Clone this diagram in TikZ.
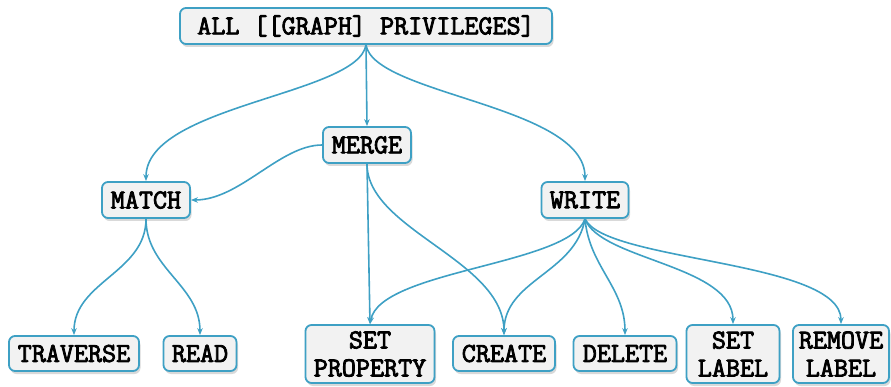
\documentclass[tikz,border=0pt]{standalone}
\usepackage{fontspec}
\newfontfamily\boxfont{Latin Modern Mono}[AutoFakeBold=3]
\usetikzlibrary{arrows.meta,shadows}
\definecolor{edgeblue}{RGB}{62,160,196}
\definecolor{boxfill}{RGB}{242,242,242}
\begin{document}
\begin{tikzpicture}[x=1pt,y=-1pt,
  box/.style={draw=edgeblue, line width=1.8pt, fill=boxfill, rounded corners=6pt,
    font=\boxfont\bfseries\fontsize{27.3}{28}\selectfont, align=center, inner sep=0pt,
    minimum height=36pt,
    drop shadow={opacity=0.3, shadow xshift=1.5pt, shadow yshift=-3pt}},
  tall/.style={box, minimum height=58pt},
  conn/.style={draw=edgeblue, line width=1.6pt, -{Stealth[length=7pt,width=5.5pt]}}]
\useasboundingbox (0,0) rectangle (891,387);
\node[box, minimum width=372pt] (all) at (366,26) {ALL [[GRAPH] PRIVILEGES]};
\node[box, minimum width=88pt] (merge) at (367,145) {MERGE};
\node[box, minimum width=88pt] (match) at (146,200) {MATCH};
\node[box, minimum width=87pt] (write) at (585,200) {WRITE};
\node[box, minimum width=130pt, minimum height=35pt] (traverse) at (74,353.5) {TRAVERSE};
\node[box, minimum width=73pt, minimum height=35pt] (read) at (200,353.5) {READ};
\node[tall, minimum width=129pt] (setprop) at (370,354) {SET\\PROPERTY};
\node[box, minimum width=102pt, minimum height=35pt] (create) at (504,353.5) {CREATE};
\node[box, minimum width=103pt, minimum height=35pt] (delete) at (625,353.5) {DELETE};
\node[tall, minimum width=93pt] (setlabel) at (733,354) {SET\\LABEL};
\node[tall, minimum width=96pt] (removelabel) at (841,354) {REMOVE\\LABEL};

\draw[conn] (all.south) .. controls (358,95) and (146,105) .. (match.north);
\draw[conn] (all.south) -- (merge.north);
\draw[conn] (all.south) .. controls (374,95) and (585,105) .. (write.north);
\draw[conn] (merge.west) .. controls (280,145) and (240,200) .. (match.east);
\draw[conn] (match.south) to[out=-90,in=90] (traverse.north);
\draw[conn] (match.south) to[out=-90,in=90] (read.north);
\draw[conn] (merge.south) -- (setprop.north);
\draw[conn] (merge.south) .. controls (367,230) and (504,260) .. (create.north);
\draw[conn] (write.south) .. controls (570,265) and (380,270) .. (setprop.north);
\draw[conn] (write.south) to[out=-100,in=90] (create.north);
\draw[conn] (write.south) to[out=-85,in=90] (delete.north);
\draw[conn] (write.south) .. controls (600,260) and (733,265) .. (setlabel.north);
\draw[conn] (write.south) .. controls (605,262) and (841,260) .. (removelabel.north);
\end{tikzpicture}
\end{document}
